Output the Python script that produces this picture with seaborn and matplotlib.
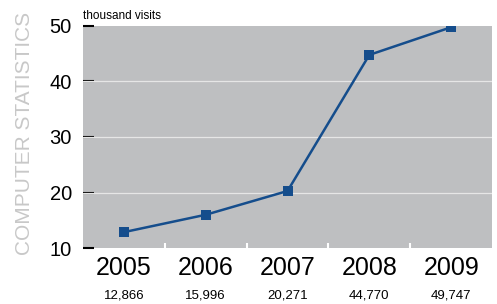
import matplotlib
matplotlib.use("Agg")
import matplotlib.pyplot as plt
import matplotlib.transforms as mtransforms
import pandas as pd
import seaborn as sns

years = ["2005", "2006", "2007", "2008", "2009"]
visits = [12866, 15996, 20271, 44770, 49747]
visit_labels = ["12,866", "15,996", "20,271", "44,770", "49,747"]
y_ticks = [10, 20, 30, 40, 50]

BG = "#bebfc1"
LINE = "#154d8c"
NARROW = ["Liberation Sans Narrow", "Liberation Sans", "DejaVu Sans"]

sns.set_theme(style="white")
plt.rcParams["font.family"] = NARROW

df = pd.DataFrame({"pos": range(len(years)), "visits": [v / 1000 for v in visits]})

fig = plt.figure(figsize=(4.97, 3.04), dpi=100)
ax = fig.add_axes([0.167, 0.184, 0.823, 0.731])
ax.set_facecolor(BG)

for y in y_ticks[1:-1]:
    ax.axhline(y, color="#e6e6e6", lw=0.9, zorder=1)

sns.lineplot(data=df, x="pos", y="visits", ax=ax, color=LINE, lw=1.8,
             marker="s", markersize=7, markeredgewidth=0, zorder=3)

ax.set_xlim(-0.5, len(years) - 0.5)
ax.set_ylim(10, 50)
ax.set_yticks(y_ticks)
ax.set_yticklabels([str(t) for t in y_ticks], fontsize=14.5)
ax.tick_params(axis="y", direction="in", length=8, width=1.5, color="black",
               pad=8, labelcolor="black", left=True)

ax.set_xticks([i + 0.5 for i in range(len(years) - 1)])
ax.set_xticklabels([])
ax.tick_params(axis="x", direction="in", length=3.6, width=1.5, color="white", bottom=True)

for s in ax.spines.values():
    s.set_visible(False)
ax.set_xlabel("")
ax.set_ylabel("")

trans = mtransforms.blended_transform_factory(ax.transData, fig.transFigure)
for i, (yr, lab) in enumerate(zip(years, visit_labels)):
    ax.text(i, 1 - 268 / 304, yr, transform=trans, ha="center", va="center",
            fontsize=18, color="black")
    ax.text(i, 1 - 296 / 304, lab, transform=trans, ha="center", va="center",
            fontsize=9.5, color="black")

fig.text(0.167, 1 - 16 / 304, "thousand visits", ha="left", va="center", fontsize=8.5,
         color="black")
fig.text(25 / 497, 1 - 133 / 304, "COMPUTER STATISTICS", rotation=90, ha="center",
         va="center", fontsize=15, color="#c8c8c8")

fig.savefig("out.png", dpi=100)
